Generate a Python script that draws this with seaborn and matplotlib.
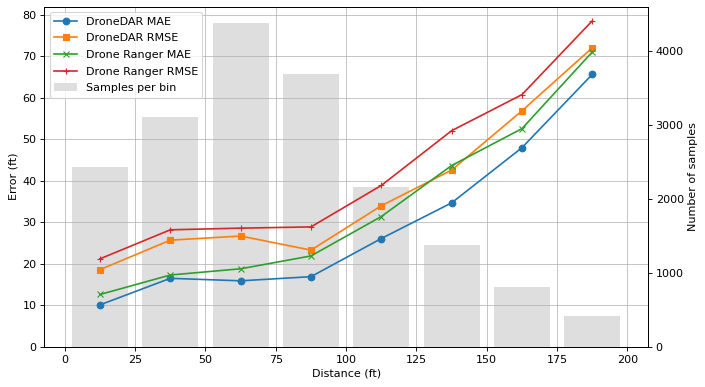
import matplotlib
matplotlib.use("Agg")
import matplotlib.pyplot as plt
import seaborn as sns
import numpy as np

bin_centers = [12.5, 37.5, 62.5, 87.5, 112.5, 137.5, 162.5, 187.5]
dronedar_mae = [10.1, 16.5, 15.9, 16.9, 26.1, 34.7, 48.0, 65.7]
dronedar_rmse = [18.6, 25.7, 26.7, 23.3, 34.0, 42.6, 56.9, 72.1]
ranger_mae = [12.6, 17.3, 18.8, 21.9, 31.4, 43.7, 52.6, 71.1]
ranger_rmse = [21.2, 28.2, 28.6, 28.9, 38.9, 52.1, 60.8, 78.6]
samples = [2436, 3110, 4383, 3694, 2163, 1378, 811, 410]

DPI = 80
fig = plt.figure(figsize=(705 / DPI, 387 / DPI), dpi=DPI)
ax1 = fig.add_axes([0.063, 0.104, 0.856, 0.879])
ax2 = ax1.twinx()

bars = ax2.bar(bin_centers, samples, width=20, color="#dedede", label="Samples per bin")
ax2.set_ylabel("Number of samples")

series = [
    (dronedar_mae, "DroneDAR MAE", "o", "C0"),
    (dronedar_rmse, "DroneDAR RMSE", "s", "C1"),
    (ranger_mae, "Drone Ranger MAE", "x", "C2"),
    (ranger_rmse, "Drone Ranger RMSE", "+", "C3"),
]
for vals, lab, mk, col in series:
    sns.lineplot(x=bin_centers, y=vals, marker=mk, color=col, label=lab,
                 markeredgecolor=col, markeredgewidth=1.0, markersize=6,
                 linewidth=1.5, ax=ax1)

ax1.set_zorder(ax2.get_zorder() + 1)
ax1.patch.set_visible(False)
ax1.set_ylim(bottom=0)
ax1.set_xlabel("Distance (ft)")
ax1.set_ylabel("Error (ft)")
ax1.grid(True, color="#b0b0b0", linewidth=0.8, alpha=0.8)

h1, l1 = ax1.get_legend_handles_labels()
h2, l2 = ax2.get_legend_handles_labels()
if ax1.get_legend() is not None:
    ax1.get_legend().remove()
ax1.legend(h1 + h2, l1 + l2, loc="upper left", labelspacing=0.6)

fig.savefig("out.png", dpi=DPI)
